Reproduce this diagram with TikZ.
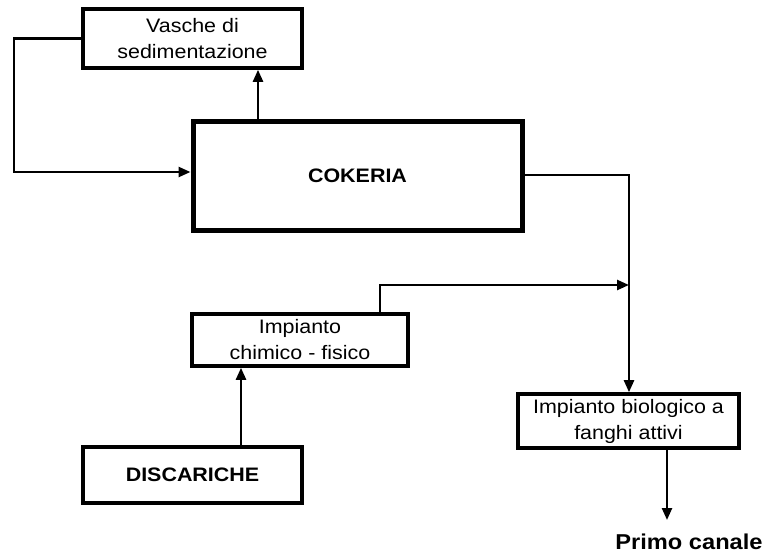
\documentclass[tikz,border=0pt]{standalone}
\usepackage{fontspec}
\setmainfont{Liberation Sans}
\newfontfamily\lab[FakeStretch=1.1]{Liberation Sans}
\usetikzlibrary{arrows.meta}
\begin{document}
\begin{tikzpicture}[x=1pt,y=-1pt,
  boxtext/.style={inner sep=0pt, align=center, font=\lab\fontsize{19.5}{26}\selectfont},
  thinbox/.style={boxtext, draw, line width=3.6pt},
  thickbox/.style={boxtext, draw, line width=5pt},
  conn/.style={line width=2.4pt},
  arr/.style={conn, -{Triangle[length=12pt,width=10pt]}}
]
\fill[white] (0,0) rectangle (766,559);
\useasboundingbox (0,0) rectangle (766,559);

\node[thinbox, minimum width=219pt, minimum height=59pt] (vas) at (192.5,38.5) {Vasche di\\sedimentazione};
\node[thickbox, minimum width=329pt, minimum height=108pt] (coke) at (357.5,176) {\bfseries COKERIA};
\node[thinbox, minimum width=216pt, minimum height=52pt] (chim) at (300,340) {Impianto\\chimico - fisico};
\node[thinbox, minimum width=219pt, minimum height=56pt] (disc) at (192.5,475) {\bfseries DISCARICHE};
\node[thinbox, minimum width=221pt, minimum height=54pt] (bio) at (628.5,421) {Impianto biologico a\\fanghi attivi};
\node[inner sep=0pt, font=\lab\fontsize{21.5}{24}\selectfont\bfseries] (canale) at (689,542) {Primo canale};

\coordinate (c1) at (258,0);
\coordinate (c2) at (14,172);
\coordinate (c3) at (629,175);
\coordinate (c4) at (380,285);
\coordinate (c5) at (241,0);
\coordinate (c6) at (667,520);

\draw[arr] (coke.north -| c1) -- (vas.south -| c1);
\draw[arr] (vas.west) -- (vas.west -| c2) -- (c2) -- (coke.west |- c2);
\draw[arr] (coke.east |- c3) -- (c3) -- (bio.north -| c3);
\draw[arr] (chim.north -| c4) -- (c4) -- (c4 -| c3);
\draw[arr] (disc.north -| c5) -- (chim.south -| c5);
\draw[arr] (bio.south -| c6) -- (c6);
\end{tikzpicture}
\end{document}
